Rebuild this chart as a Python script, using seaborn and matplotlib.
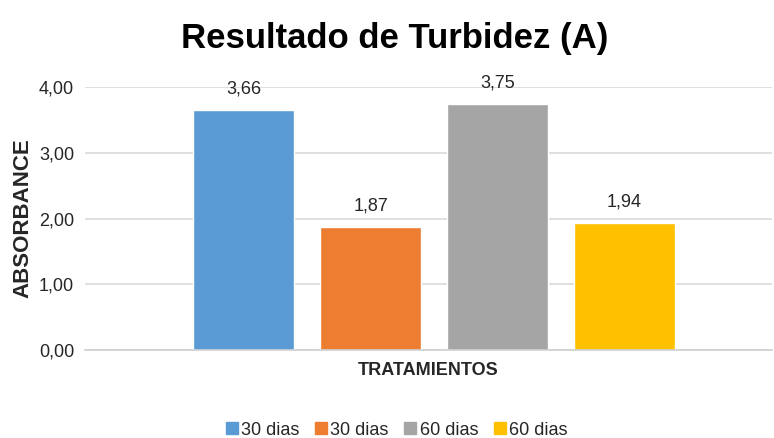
import pandas as pd
import matplotlib.pyplot as plt
import seaborn as sns
from matplotlib.lines import Line2D

# --- data ---
series_keys = ['s1', 's2', 's3', 's4']
series_labels = ['30 dias', '30 dias', '60 dias', '60 dias']
absorbance = [3.66, 1.87, 3.75, 1.94]
colors = ['#5B9BD5', '#ED7D31', '#A5A5A5', '#FFC000']
y_ticks = [0, 1, 2, 3, 4]

df = pd.DataFrame({'serie': series_keys, 'valor': absorbance})

sns.set_style("white")
plt.rcParams['font.family'] = ['Liberation Sans', 'DejaVu Sans']
text_color = '#262626'

fig = plt.figure(figsize=(7.74, 4.38), dpi=100)
ax = fig.add_axes([0.110, 0.201, 0.887, 0.600])

sns.barplot(data=df, x='serie', y='valor', hue='serie', palette=colors,
            width=0.795, legend=False, ax=ax, saturation=1)

ax.set_ylim(0, 4)
ax.set_xlim(-1.25, 4.16)
ax.set_yticks(y_ticks)
ax.set_yticklabels([f"{v:.2f}".replace('.', ',') for v in y_ticks],
                   fontsize=13, color=text_color)
ax.tick_params(axis='y', length=0, pad=8)
ax.set_xticks([])
ax.yaxis.grid(True, color='#D9D9D9', linewidth=1.2)
ax.set_axisbelow(True)
for side in ['top', 'right', 'left']:
    ax.spines[side].set_visible(False)
ax.spines['bottom'].set_color('#D0D0D0')
ax.spines['bottom'].set_linewidth(1.2)

for container in ax.containers:
    ax.bar_label(container,
                 labels=[f"{b.get_height():.2f}".replace('.', ',') for b in container],
                 padding=9, fontsize=13, color=text_color)

ax.set_ylabel('ABSORBANCE', fontsize=16, fontweight='bold', color=text_color, labelpad=4)
ax.set_xlabel('TRATAMIENTOS', fontsize=13, fontweight='bold', color=text_color, labelpad=9)

fig.text(0.510, 0.913, 'Resultado de Turbidez (A)', ha='center', va='center',
         fontsize=25, fontweight='bold', color='black')

handles = [Line2D([0], [0], marker='s', linestyle='none', markersize=9,
                  markerfacecolor=c, markeredgecolor=c) for c in colors]
fig.legend(handles, series_labels, loc='center', bbox_to_anchor=(0.513, 0.018),
           ncol=4, frameon=False, handlelength=0.6, handletextpad=0.2,
           columnspacing=0.9, prop={'size': 13})

plt.savefig('out.png', dpi=100)
plt.close()
